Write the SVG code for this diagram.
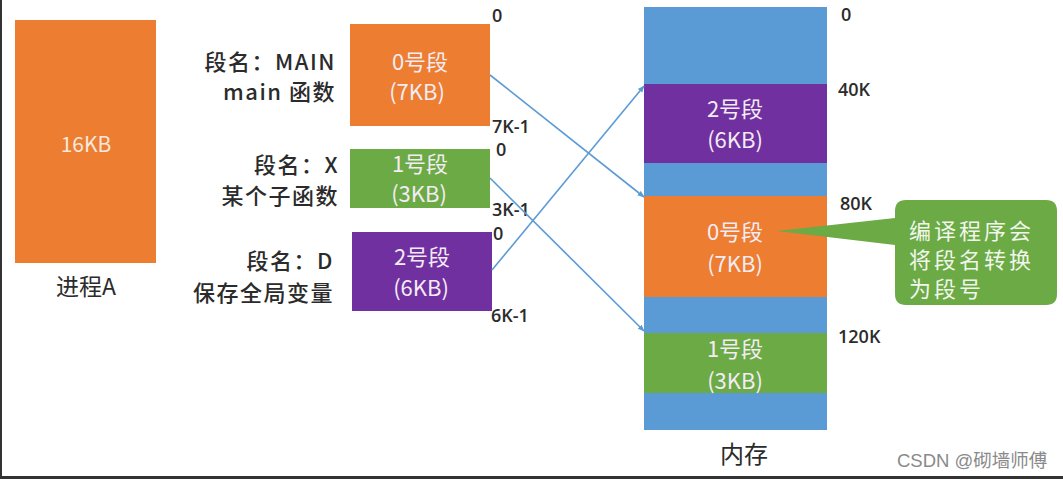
<svg xmlns="http://www.w3.org/2000/svg" width="1063" height="479" viewBox="0 0 1063 479">
<defs>
<marker id="ah" viewBox="0 0 10 10" refX="9" refY="5" markerWidth="7" markerHeight="7" orient="auto" markerUnits="userSpaceOnUse">
<path d="M0,1 L10,5 L0,9 z" fill="#5B9BD5"/>
</marker>
<style>
.t{font-family:"Noto Sans CJK SC","Liberation Sans",sans-serif;}
.lbl{font-size:22px;fill:#2b2b2b;text-anchor:end;font-weight:500;letter-spacing:1.5px;}
.adr{font-family:"Open Sans","Liberation Sans",sans-serif;font-size:18px;fill:#2b2b2b;font-weight:600;}
.in{font-size:22px;fill:#f3ecf5;text-anchor:middle;}
.co{font-size:22px;fill:#f1f6ec;letter-spacing:3px;}
.conn{stroke:#5B9BD5;stroke-width:1.6;fill:none;marker-end:url(#ah);}
</style>
</defs>
<rect x="0" y="0" width="1063" height="479" fill="#ffffff"/>
<rect x="0" y="0" width="2" height="479" fill="#333"/>
<rect x="0" y="476" width="1063" height="3" fill="#333"/>

<g id="processA">
<rect x="15" y="20" width="141" height="243" fill="#ED7D31"/>
<text class="t" x="86" y="152" font-size="21" fill="#f6e8dc" text-anchor="middle">16KB</text>
<text class="t" x="86" y="295" font-size="23" fill="#2b2b2b" text-anchor="middle">进程A</text>
</g>

<g id="labels">
<text class="t lbl" x="336" y="70">段名：MAIN</text>
<text class="t lbl" x="336" y="100">main 函数</text>
<text class="t lbl" x="339" y="173">段名：X</text>
<text class="t lbl" x="339" y="204">某个子函数</text>
<text class="t lbl" x="334" y="269">段名：D</text>
<text class="t lbl" x="334" y="301">保存全局变量</text>
</g>

<g id="seg0">
<rect x="350" y="24" width="140" height="102" fill="#ED7D31"/>
<text class="t in" x="420" y="70">0号段</text>
<text class="t in" x="417" y="100">(7KB)</text>
</g>
<g id="seg1">
<rect x="350" y="149" width="140" height="59" fill="#6BAA45"/>
<text class="t in" x="420" y="172">1号段</text>
<text class="t in" x="419" y="202">(3KB)</text>
</g>
<g id="seg2">
<rect x="352" y="232" width="140" height="79" fill="#7030A0"/>
<text class="t in" x="422" y="265">2号段</text>
<text class="t in" x="421" y="296">(6KB)</text>
</g>

<g id="offsets">
<text class="adr" x="492" y="22">0</text>
<text class="adr" x="492" y="133">7K-1</text>
<text class="adr" x="496" y="156">0</text>
<text class="adr" x="492" y="216">3K-1</text>
<text class="adr" x="493" y="240">0</text>
<text class="adr" x="491" y="322">6K-1</text>
</g>

<g id="memory">
<rect x="644" y="7" width="183" height="423" fill="#5B9BD5"/>
<rect x="644" y="84" width="183" height="79" fill="#7030A0"/>
<text class="t in" x="735" y="117">2号段</text>
<text class="t in" x="735" y="148">(6KB)</text>
<rect x="644" y="196" width="183" height="101" fill="#ED7D31"/>
<text class="t in" x="735" y="240">0号段</text>
<text class="t in" x="735" y="272">(7KB)</text>
<rect x="644" y="333" width="183" height="60" fill="#6BAA45"/>
<text class="t in" x="735" y="357">1号段</text>
<text class="t in" x="735" y="389">(3KB)</text>
<text class="t" x="744" y="463" font-size="24" fill="#2b2b2b" text-anchor="middle">内存</text>
</g>

<g id="addresses">
<text class="adr" x="841" y="21" font-size="19">0</text>
<text class="adr" x="838" y="96" font-size="19">40K</text>
<text class="adr" x="840" y="210" font-size="19">80K</text>
<text class="adr" x="838" y="343" font-size="19">120K</text>
</g>

<g id="callout">
<path d="M906,200 H1046 Q1057,200 1057,211 V294 Q1057,305 1046,305 H906 Q895,305 895,294 V245 L777,231 L895,218 V211 Q895,200 906,200 Z" fill="#6BAA45"/>
<text class="t co" x="909" y="239">编译程序会</text>
<text class="t co" x="909" y="268">将段名转换</text>
<text class="t co" x="909" y="297">为段号</text>
</g>

<g id="connectors">
<line class="conn" x1="490" y1="75" x2="644" y2="197"/>
<line class="conn" x1="490" y1="178" x2="644" y2="331"/>
<line class="conn" x1="492" y1="270" x2="644" y2="86"/>
</g>

<text x="897" y="467" font-family="Liberation Sans,Noto Sans CJK SC,sans-serif" font-size="18.5" fill="#8a8a8a">CSDN @砌墙师傅</text>
</svg>
